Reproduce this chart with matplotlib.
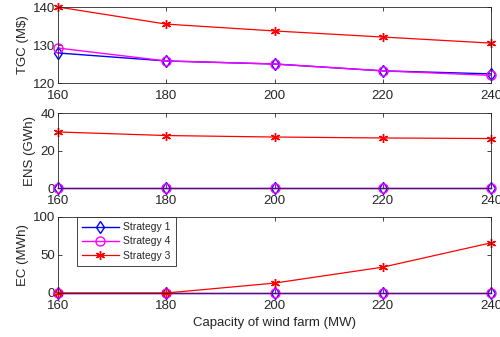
import numpy as np
import matplotlib.pyplot as plt

plt.rcParams['font.family'] = ['Liberation Sans', 'DejaVu Sans']
plt.rcParams['font.size'] = 9.5

# data
capacity = [160, 180, 200, 220, 240]
tgc_s1 = [127.9, 125.8, 125.0, 123.2, 122.4]
tgc_s4 = [129.2, 125.8, 125.0, 123.2, 122.0]
tgc_s3 = [140.0, 135.5, 133.7, 132.1, 130.5]
ens_s1 = [0, 0, 0, 0, 0]
ens_s4 = [0, 0, 0, 0, 0]
ens_s3 = [29.9, 28.0, 27.2, 26.7, 26.4]
ec_s1 = [0, 0, 0, 0, 0]
ec_s4 = [0, 0, 0, 0, 0]
ec_s3 = [0, 0, 13, 34, 66]

ylabels = ['TGC (M$)', 'ENS (GWh)', 'EC (MWh)']
ylims = [(120, 140), (0, 40), (0, 100)]
yticks = [[120, 130, 140], [0, 20, 40], [0, 50, 100]]
series = [(tgc_s1, tgc_s4, tgc_s3), (ens_s1, ens_s4, ens_s3), (ec_s1, ec_s4, ec_s3)]

fig = plt.figure(figsize=(5, 3.37), dpi=100)
# panel positions [left, bottom, width, height]
rects = [[0.116, 0.7537, 0.866, 0.2255],
         [0.116, 0.442, 0.866, 0.2226],
         [0.116, 0.1306, 0.866, 0.2255]]

txt = '#262626'
asterisk = (6, 2, 0)
for i, rect in enumerate(rects):
    ax = fig.add_axes(rect)
    s1, s4, s3 = series[i]
    ax.plot(capacity, s1, color='blue', marker='d', mfc='none', ms=6, lw=1, label='Strategy 1', clip_on=False)
    ax.plot(capacity, s4, color='magenta', marker='o', mfc='none', ms=6.5, lw=1, label='Strategy 4', clip_on=False)
    ax.plot(capacity, s3, color='red', marker=asterisk, ms=6.5, mew=1, lw=0.9, label='Strategy 3', clip_on=False)
    ax.set_xlim(160, 240)
    ax.set_ylim(*ylims[i])
    ax.set_xticks(capacity)
    ax.set_yticks(yticks[i])
    ax.set_ylabel(ylabels[i], color=txt, labelpad=3)
    ax.tick_params(direction='in', top=True, right=True, colors=txt, length=3, width=0.6, pad=2)
    ax.tick_params(axis='x', pad=5)
    for sp in ax.spines.values():
        sp.set_color(txt)
        sp.set_linewidth(0.6)
    if i == 2:
        ax.set_xlabel('Capacity of wind farm (MW)', color=txt, labelpad=4)
        leg = ax.legend(loc='upper left', bbox_to_anchor=(0.044, 1.0), borderaxespad=0,
                        fancybox=False, edgecolor=txt, framealpha=1, borderpad=0.5,
                        labelspacing=0.4, handlelength=3.5, handletextpad=0.4, fontsize=7.5)
        leg.get_frame().set_linewidth(0.6)
        for t in leg.get_texts():
            t.set_color(txt)

fig.savefig('out.png', dpi=100)
